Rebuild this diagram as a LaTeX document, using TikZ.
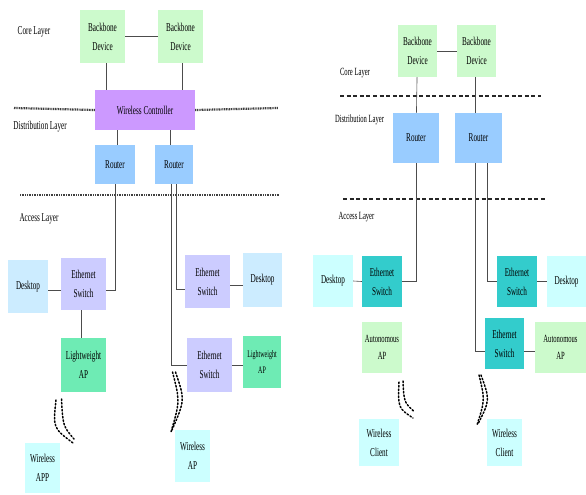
\documentclass[tikz,border=0pt]{standalone}
\usepackage{fontspec}
\setmainfont{Liberation Serif}[FakeStretch=0.6]
\usepackage{tikz}
\definecolor{bbgreen}{RGB}{204,250,204}
\definecolor{wcpurple}{RGB}{204,153,255}
\definecolor{rtblue}{RGB}{153,204,255}
\definecolor{dkblue}{RGB}{204,236,255}
\definecolor{dkcyan}{RGB}{204,255,255}
\definecolor{eslav}{RGB}{204,204,255}
\definecolor{lapgreen}{RGB}{110,235,180}
\definecolor{esteal}{RGB}{51,204,204}
\tikzset{every picture/.style={
  x=1pt,y=-1pt                  % Pixel grid of the reference.
  }
}

\begin{document}
\begin{tikzpicture}[
    dev/.style={                % Boxes denoting network devices.
      rectangle,
      inner sep=0pt,
      align=center,
      font=\fontsize{12}{19}\selectfont
    },
    lbl/.style={                % Layer names.
      inner sep=0pt,
      font=\fontsize{12}{14}\selectfont
    },
    wire/.style={               % Cabling between devices.
      draw=black!70,
      line width=0.6pt
    },
    sep/.style={                % Boundaries between layers.
      line width=2.2pt,
      black!75,
      dash pattern=on 1pt off 0.7pt
    },
    dsep/.style={               % Dashed boundaries on the right.
      line width=1.3pt,
      black!85,
      dash pattern=on 4pt off 2.6pt
    },
    radio/.style={              % Radio links.
      line width=1.5pt,
      dotted,
      line cap=round
    }]
    \useasboundingbox (0,0) rectangle (586,495);

    % Hierarchy with a wireless controller.
    \node[lbl] (lcore) at (34,32) {Core Layer};
    \node[lbl] (ldist) at (40,127) {Distribution Layer};
    \node[lbl] (lacc)  at (39,219) {Access Layer};

    \node[dev,fill=bbgreen,minimum width=45,minimum height=53] (bbA) at (102.5,36.5) {Backbone\\Device};
    \node[dev,fill=bbgreen,minimum width=45,minimum height=53] (bbB) at (180.5,36.5) {Backbone\\Device};
    \node[dev,fill=wcpurple,minimum width=100,minimum height=40] (wc) at (145,110) {Wireless Controller};
    \node[dev,fill=rtblue,minimum width=40,minimum height=39] (rtA) at (115,164.5) {Router};
    \node[dev,fill=rtblue,minimum width=38,minimum height=39] (rtB) at (174,164.5) {Router};
    \node[dev,fill=dkblue,minimum width=40,minimum height=53] (dkA) at (28,286.5) {Desktop};
    \node[dev,fill=eslav,minimum width=45,minimum height=52] (esA) at (83.5,284) {Ethernet\\Switch};
    \node[dev,fill=lapgreen,minimum width=45,minimum height=54] (lapA) at (83.5,365) {Lightweight\\AP};
    \node[dev,fill=dkcyan,minimum width=35,minimum height=50] (wlA) at (42.5,468) {Wireless\\APP};
    \node[dev,fill=eslav,minimum width=45,minimum height=53] (esB) at (207.5,281.5) {Ethernet\\Switch};
    \node[dev,fill=dkblue,minimum width=39,minimum height=54] (dkB) at (262.5,280) {Desktop};
    \node[dev,fill=eslav,minimum width=45,minimum height=54] (esC) at (209.5,365) {Ethernet\\Switch};
    \node[dev,fill=lapgreen,minimum width=38,minimum height=52,font=\fontsize{10}{16}\selectfont] (lapB) at (262,362) {Lightweight\\AP};
    \node[dev,fill=dkcyan,minimum width=35,minimum height=52] (wlB) at (192.5,456) {Wireless\\AP};

    \draw[sep] (14,108) -- (wc.west);
    \draw[sep] (wc.east) -- (278,108);
    \draw[sep] (20,195) -- (280,195);

    \draw[wire] (bbA) -- (bbB);
    \draw[wire] ([xshift=3.5pt]bbA.south) -- ([xshift=3.5pt]bbA.south |- wc.north);
    \draw[wire] ([xshift=1.5pt]bbB.south) -- ([xshift=1.5pt]bbB.south |- wc.north);
    \draw[wire] ([xshift=2pt]rtA.north |- wc.south) -- ([xshift=2pt]rtA.north);
    \draw[wire] ([xshift=-4pt]rtB.north |- wc.south) -- ([xshift=-4pt]rtB.north);
    \draw[wire] (rtA.south) |- ([yshift=-6pt]esA.east);
    \draw[wire] ([yshift=-6pt]esA.west) -- ([yshift=-6pt]esA.west -| dkA.east);
    \draw[wire] ([xshift=-2.5pt]esA.south) -- ([xshift=-2.5pt]lapA.north);
    \draw[wire] ([xshift=2pt]rtB.south) |- ([yshift=-7.5pt]esB.west);
    \draw[wire] ([yshift=-3.5pt]esB.east) -- ([yshift=-3.5pt]esB.east -| dkB.west);
    \draw[wire] ([xshift=-3pt]rtB.south) |- (esC.west);
    \draw[wire] (esC.east) -- (esC.east -| lapB.west);

    \draw[radio] (56,400) .. controls (53,428) .. (73,443);
    \draw[radio] (61.5,399) .. controls (63,426) .. (74,439);
    \draw[radio] (172.5,372) .. controls (180,401) .. (171,432);
    \draw[radio] (175.5,372) .. controls (185,400) .. (172,430);

    % Hierarchy with autonomous access points.
    \node[lbl,font=\fontsize{11}{13}\selectfont] (rcore) at (355,73) {Core Layer};
    \node[lbl,font=\fontsize{11}{13}\selectfont] (rdist) at (359.5,120) {Distribution Layer};
    \node[lbl,font=\fontsize{11}{13}\selectfont] (racc)  at (356.5,217) {Access Layer};

    \node[dev,fill=bbgreen,minimum width=39,minimum height=52] (bbC) at (417.5,51) {Backbone\\Device};
    \node[dev,fill=bbgreen,minimum width=39,minimum height=52] (bbD) at (476.5,51) {Backbone\\Device};
    \node[dev,fill=rtblue,minimum width=46,minimum height=50] (rtC) at (416,138) {Router};
    \node[dev,fill=rtblue,minimum width=47,minimum height=50] (rtD) at (478.5,138) {Router};
    \node[dev,fill=dkcyan,minimum width=40,minimum height=52] (dkC) at (333,281) {Desktop};
    \node[dev,fill=esteal,minimum width=40,minimum height=51] (esD) at (382,281.5) {Ethernet\\Switch};
    \node[dev,fill=bbgreen,minimum width=40,minimum height=51,font=\fontsize{11}{17}\selectfont] (apC) at (382,347.5) {Autonomous\\AP};
    \node[dev,fill=dkcyan,minimum width=40,minimum height=47] (wcC) at (379,442.5) {Wireless\\Client};
    \node[dev,fill=esteal,minimum width=40,minimum height=51] (esE) at (517,281.5) {Ethernet\\Switch};
    \node[dev,fill=dkcyan,minimum width=39,minimum height=51] (dkD) at (566.5,281.5) {Desktop};
    \node[dev,fill=esteal,minimum width=39,minimum height=51] (esF) at (504.5,343.5) {Ethernet\\Switch};
    \node[dev,fill=bbgreen,minimum width=51,minimum height=51,font=\fontsize{11}{17}\selectfont] (apD) at (560.5,347.5) {Autonomous\\AP};
    \node[dev,fill=dkcyan,minimum width=35,minimum height=47] (wcD) at (504.5,442.5) {Wireless\\Client};

    \draw[dsep] (340,96) -- (541,96);
    \draw[dsep] (343,199) -- (545,199);

    \draw[wire] (bbC) -- (bbD);
    \draw[wire] (bbC) -- (rtC);
    \draw[wire] ([xshift=-1.5pt]bbD.south) -- ([xshift=-1.5pt]bbD.south |- rtD.north);
    \draw[wire] (rtC.south) |- (esD.east);
    \draw[wire] (esD.west) -- (dkC.east);
    \draw[wire] ([xshift=8.5pt]rtD.south) |- (esE.west);
    \draw[wire] (esE.east) -- (dkD.west);
    \draw[wire] ([xshift=-3.5pt]rtD.south) |- ([yshift=-8pt]esF.west);
    \draw[wire] ([yshift=-8pt]esF.east) -- ([yshift=-8pt]esF.east -| apD.west);

    \draw[radio] (399,382) .. controls (398,408) .. (413,418);
    \draw[radio] (403,381) .. controls (404,402) .. (413.5,411);
    \draw[radio] (479,375) .. controls (485,400) .. (477,425);
    \draw[radio] (481,375) .. controls (490,400) .. (478,424);
  \end{tikzpicture}
\end{document}
